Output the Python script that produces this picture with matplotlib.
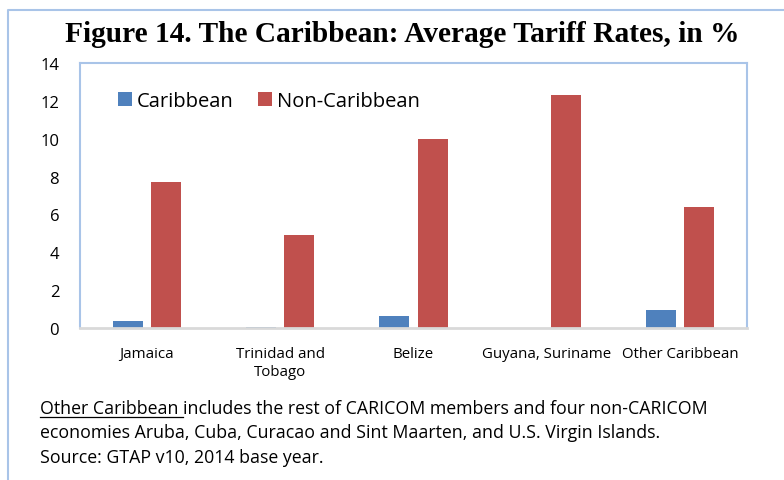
import numpy as np
import matplotlib
matplotlib.use("Agg")
import matplotlib.pyplot as plt
from matplotlib.lines import Line2D

regions = ["Jamaica", "Trinidad and\nTobago", "Belize", "Guyana, Suriname", "Other Caribbean"]
caribbean = [0.35, 0.05, 0.65, 0.0, 0.95]
non_caribbean = [7.7, 4.9, 10.0, 12.3, 6.4]
yticks = [0, 2, 4, 6, 8, 10, 12, 14]

BLUE = "#4f81bd"
RED = "#c0504d"
FRAME = "#a9c4e8"
SANS = ["Open Sans", "DejaVu Sans"]
W, H = 784, 481

fig = plt.figure(figsize=(W / 100, H / 100), dpi=100)
ax = fig.add_axes([80 / W, 1 - 329 / H, 667 / W, 265 / H])

x = np.arange(len(regions))
w = 0.225
ax.bar(x - 0.143, caribbean, w, color=BLUE, label="Caribbean")
ax.bar(x + 0.143, non_caribbean, w, color=RED, label="Non-Caribbean")

ax.set_xlim(-0.5, len(regions) - 0.5)
ax.set_ylim(0, 14)
ax.set_yticks(yticks)
ax.set_yticklabels([str(t) for t in yticks], fontsize=12, family=SANS)
ax.set_xticks(x)
ax.set_xticklabels(regions, fontsize=10.8, family=SANS, linespacing=1.25)
ax.tick_params(axis="y", length=0, pad=15)
ax.tick_params(axis="x", length=0, pad=13)
for s in ["top", "left", "right"]:
    ax.spines[s].set_color(FRAME)
    ax.spines[s].set_linewidth(1.5)
ax.spines["bottom"].set_color("#d9d9d9")
ax.spines["bottom"].set_linewidth(2)

ax.legend(loc="upper left", bbox_to_anchor=(0.0445, 0.925), ncol=2, frameon=False,
          prop={"family": SANS, "size": 14.5}, handlelength=0.7, handleheight=0.7,
          handletextpad=0.22, columnspacing=1.25, borderaxespad=0)

fig.text(402 / W, 1 - 42 / H, "Figure 14. The Caribbean: Average Tariff Rates, in %",
         ha="center", va="baseline", fontsize=21.2, fontweight="bold", family="Liberation Serif")

# outer frame (top and left edges only)
fig.add_artist(Line2D([8 / W, 8 / W, 1], [0, 1 - 11 / H, 1 - 11 / H],
                      transform=fig.transFigure, color=FRAME, lw=1.5))

# footnote, with the first words underlined
fs = 12.8
t0 = fig.text(40 / W, 1 - 414 / H, "Other Caribbean ", fontsize=fs, family=SANS, va="baseline")
fig.canvas.draw()
bb = t0.get_window_extent(renderer=fig.canvas.get_renderer())
x1 = bb.x1 / fig.bbox.width
fig.text(x1, 1 - 414 / H, "includes the rest of CARICOM members and four non-CARICOM",
         fontsize=fs, family=SANS, va="baseline")
uy = 1 - 417.5 / H
fig.add_artist(Line2D([40 / W, x1], [uy, uy], transform=fig.transFigure, color="black", lw=0.9))
fig.text(40 / W, 1 - 438 / H,
         "economies Aruba, Cuba, Curacao and Sint Maarten, and U.S. Virgin Islands.",
         fontsize=fs, family=SANS, va="baseline")
fig.text(40 / W, 1 - 463 / H, "Source: GTAP v10, 2014 base year.",
         fontsize=fs, family=SANS, va="baseline")

fig.savefig("out.png", dpi=100)
